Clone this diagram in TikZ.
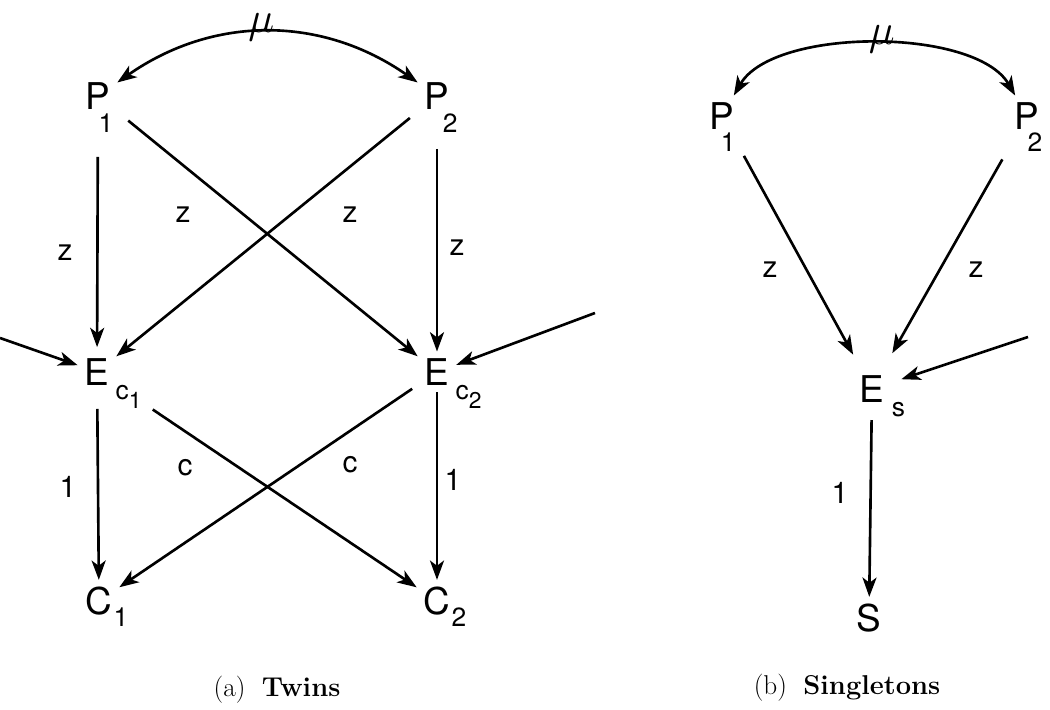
\documentclass[tikz,border=0pt]{standalone}
\usepackage{fontspec}
\setsansfont{TeX Gyre Heros}
\usetikzlibrary{arrows.meta,calc}
\tikzset{every picture/.style={/utils/exec={\sffamily}}}
\tikzset{
    vx/.style={font=\fontsize{21}{21}\selectfont\sffamily, inner sep=2pt, outer sep=2pt},
    sub/.style={font=\fontsize{15}{15}\selectfont\sffamily, inner sep=0pt, anchor=center},
    wt/.style={font=\fontsize{17}{17}\selectfont\sffamily, inner sep=0pt},
    arr/.style={-{Stealth[length=11pt, width=8pt, inset=3pt]}, line width=1.5pt},
    pair/.style={{Stealth[length=11pt, width=8pt, inset=3pt]}-{Stealth[length=11pt, width=8pt, inset=3pt]}, line width=1.5pt},
    mu/.style={anchor=base, inner sep=0pt, font=\fontsize{26}{26}\selectfont},
    captxt/.style={font=\fontsize{15.5}{16}\selectfont\rmfamily}
}
\newcommand{\csub}[1]{c\raisebox{-5pt}{\fontsize{13}{13}\selectfont #1}}

\begin{document}
\begin{tikzpicture}
    \useasboundingbox (0, 0) rectangle (21, 14.2);
    % (a) twins
    \node [vx, label={[sub, xshift=4.5pt, yshift=-15.5pt]center:1}] (P1a) at (1.96, 12.28) {P};
    \node [vx, label={[sub, xshift=7.5pt, yshift=-15.5pt]center:2}] (P2a) at (8.74, 12.28) {P};
    \node [vx, label={[sub, xshift=18pt, yshift=-14pt]center:\csub{1}}] (Ec1) at (1.94, 6.76) {E};
    \node [vx, label={[sub, xshift=18pt, yshift=-14pt]center:\csub{2}}] (Ec2) at (8.74, 6.76) {E};
    \node [vx, label={[sub, xshift=12.5pt, yshift=-9pt]center:1}] (C1) at (1.98, 2.18) {C};
    \node [vx, label={[sub, xshift=12.5pt, yshift=-9pt]center:2}] (C2) at (8.74, 2.18) {C};
    \coordinate (inL) at (0, 7.44);
    \coordinate (inR) at (11.9, 7.94);
    \draw [pair] (P1a) to[bend left=35] node [mu, pos=0.48] (mua) {$\mu$} (P2a);
    \draw [arr, shorten <=23pt, shorten >=2.5pt] (P1a) -- (Ec1);
    \draw [arr, shorten <=8pt] (P1a) -- (Ec2);
    \draw [arr, shorten <=5.7pt] (P2a) -- (Ec1);
    \draw [arr, shorten <=18.5pt] (P2a) -- (Ec2);
    \draw [arr, shorten <=9.4pt] (Ec1) -- (C1);
    \draw [arr, shorten <=25pt] (Ec1) -- (C2);
    \draw [arr, shorten <=3.8pt] (Ec2) -- (C1);
    \draw [arr] (Ec2) -- (C2);
    \draw [arr] (inL) -- (Ec1);
    \draw [arr] (inR) -- (Ec2);
    \node [wt] (za) at (1.3, 9.14) {z};
    \node [wt] (zb) at (3.66, 9.9) {z};
    \node [wt] (zc) at (7.0, 9.9) {z};
    \node [wt] (zd) at (9.14, 9.24) {z};
    \node [wt] (oa) at (1.36, 4.46) {1};
    \node [wt] (ca) at (3.7, 4.84) {c};
    \node [wt] (cb) at (7.0, 4.9) {c};
    \node [wt] (ob) at (9.06, 4.6) {1};
    \node [captxt] (capa) at (5.54, 0.4) {(a)~~\textbf{Twins}};
    % (b) singletons
    \node [vx, label={[sub, xshift=3.5pt, yshift=-15pt]center:1}] (P1b) at (14.44, 11.88) {P};
    \node [vx, label={[sub, xshift=4.5pt, yshift=-15pt]center:2}] (P2b) at (20.54, 11.88) {P};
    \node [vx, label={[sub, xshift=15pt, yshift=-12pt]center:s}] (Es) at (17.44, 6.42) {E};
    \node [vx] (S) at (17.38, 1.84) {S};
    \coordinate (inS) at (20.56, 7.46);
    \draw [pair] (P1b) to[out=60, in=120, looseness=0.72] node [mu, pos=0.52] (mub) {$\mu$} (P2b);
    \draw [arr, shorten <=12.6pt, shorten >=9pt] (P1b) -- (Es);
    \draw [arr, shorten <=15pt, shorten >=10pt] (P2b) -- (Es);
    \draw [arr, shorten >=6pt] (inS) -- (Es);
    \draw [arr, shorten <=6pt] (Es) -- (S);
    \node [wt] (ze) at (15.4, 8.8) {z};
    \node [wt] (zf) at (19.52, 8.8) {z};
    \node [wt] (oc) at (16.8, 4.34) {1};
    \node [captxt] (capb) at (16.94, 0.44) {(b)~~\textbf{Singletons}};
\end{tikzpicture}
\end{document}
